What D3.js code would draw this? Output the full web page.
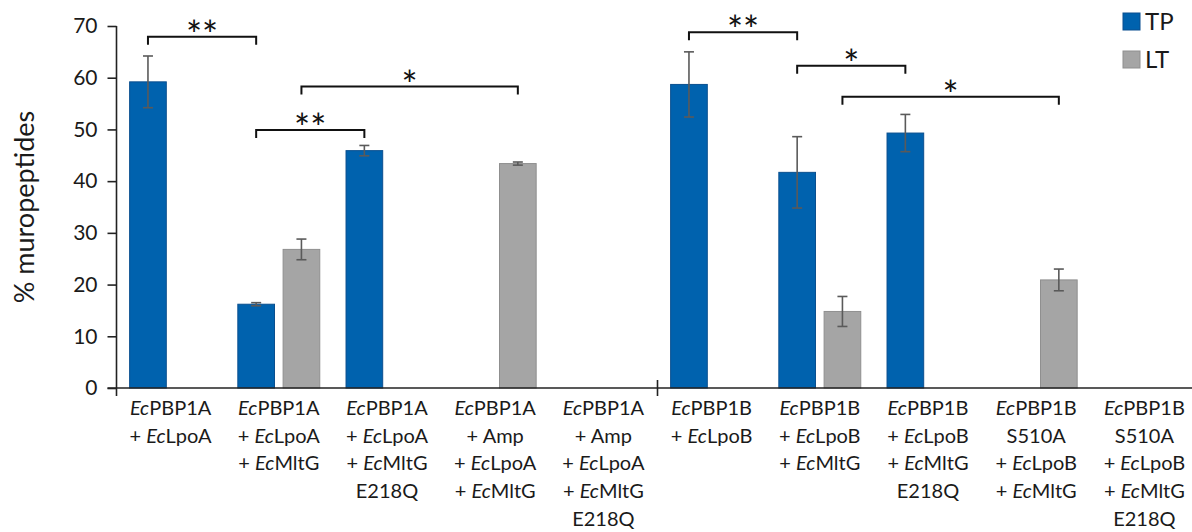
<!DOCTYPE html>
<html>

<head>
  <title>Muropeptides</title>
</head>

<body>

  <svg id="svg" width="1192" height="532"></svg>

  <script src="https://d3js.org/d3.v7.min.js"></script>
  <script>
    // categories: each entry is the lines of the x label
    const categories = [
      ['EcPBP1A', '+ EcLpoA'],
      ['EcPBP1A', '+ EcLpoA', '+ EcMltG'],
      ['EcPBP1A', '+ EcLpoA', '+ EcMltG', 'E218Q'],
      ['EcPBP1A', '+ Amp', '+ EcLpoA', '+ EcMltG'],
      ['EcPBP1A', '+ Amp', '+ EcLpoA', '+ EcMltG', 'E218Q'],
      ['EcPBP1B', '+ EcLpoB'],
      ['EcPBP1B', '+ EcLpoB', '+ EcMltG'],
      ['EcPBP1B', '+ EcLpoB', '+ EcMltG', 'E218Q'],
      ['EcPBP1B', 'S510A', '+ EcLpoB', '+ EcMltG'],
      ['EcPBP1B', 'S510A', '+ EcLpoB', '+ EcMltG', 'E218Q']
    ]
    const series = ['TP', 'LT']
    const tpValues = [59.2, 16.2, 45.9, null, null, 58.7, 41.7, 49.3, null, null]
    const tpErrors = [5.0, 0.3, 1.0, null, null, 6.3, 6.9, 3.6, null, null]
    const ltValues = [null, 26.8, null, 43.4, null, null, 14.8, null, 20.9, null]
    const ltErrors = [null, 2.0, null, 0.3, null, null, 2.9, null, 2.1, null]
    const yTicks = [0, 10, 20, 30, 40, 50, 60, 70]

    // significance brackets: [category, series] -> [category, series], height in %, label
    const brackets = [
      { a: 0, sa: 'TP', b: 1, sb: 'TP', h: 67.9, label: '**' },
      { a: 1, sa: 'TP', b: 2, sb: 'TP', h: 49.9, label: '**' },
      { a: 1, sa: 'LT', b: 3, sb: 'LT', h: 58.3, label: '*' },
      { a: 5, sa: 'TP', b: 6, sb: 'TP', h: 68.8, label: '**' },
      { a: 6, sa: 'TP', b: 7, sb: 'TP', h: 62.3, label: '*' },
      { a: 6, sa: 'LT', b: 8, sb: 'LT', h: 56.3, label: '*' }
    ]

    const colors = { TP: '#0062ae', LT: '#a5a5a5' }
    const strokes = { TP: '#0a4f8f', LT: '#8f8f8f' }
    const font = 'Lato, "Open Sans", sans-serif'

    const svg = d3.select('#svg')

    const idx = d3.range(categories.length)
    const xscale = d3.scaleBand()
      .domain(idx)
      .range([116.5, 1198.5])

    const sub = d3.scaleBand()
      .domain(series)
      .range([0, xscale.bandwidth()])
      .paddingInner(0.19)
      .paddingOuter(0.29)

    const yscale = d3.scaleLinear()
      .domain([0, 70])
      .range([388, 26])

    const rows = []
    idx.forEach(i => {
      if (tpValues[i] != null) rows.push({ i, s: 'TP', v: tpValues[i], e: tpErrors[i] })
      if (ltValues[i] != null) rows.push({ i, s: 'LT', v: ltValues[i], e: ltErrors[i] })
    })

    const cx = (i, s) => xscale(i) + sub(s) + sub.bandwidth() / 2

    // bars
    svg.append('g')
      .selectAll('rect')
      .data(rows)
      .join('rect')
      .attr('x', d => xscale(d.i) + sub(d.s))
      .attr('y', d => yscale(d.v))
      .attr('width', sub.bandwidth())
      .attr('height', d => yscale(0) - yscale(d.v))
      .attr('fill', d => colors[d.s])
      .attr('stroke', d => strokes[d.s])
      .attr('stroke-width', 1)

    // error bars
    const err = svg.append('g')
      .attr('stroke', '#5a5a5a')
      .attr('stroke-width', 1.6)
    rows.forEach(d => {
      const x = cx(d.i, d.s)
      err.append('line')
        .attr('x1', x).attr('x2', x)
        .attr('y1', yscale(d.v + d.e)).attr('y2', yscale(d.v - d.e))
      ;[d.v + d.e, d.v - d.e].forEach(v => {
        err.append('line')
          .attr('x1', x - 5).attr('x2', x + 5)
          .attr('y1', yscale(v)).attr('y2', yscale(v))
      })
    })

    // y axis
    const yAxis = svg.append('g')
      .attr('transform', `translate(${xscale.range()[0]},0)`)
      .call(d3.axisLeft(yscale).tickValues(yTicks).tickSize(9).tickSizeOuter(0).tickPadding(10))
    yAxis.select('.domain').attr('stroke', '#222').attr('stroke-width', 1.6)
      .attr('d', `M0,${yscale(70)}V${yscale(0) + 8}`)
    yAxis.selectAll('.tick line').attr('stroke', '#222').attr('stroke-width', 1.6)
    yAxis.selectAll('.tick text')
      .attr('font-family', font)
      .attr('font-size', 21)
      .attr('fill', '#1a1a1a')

    // x axis
    const xa = svg.append('g').attr('stroke', '#222').attr('stroke-width', 1.6)
    xa.append('line')
      .attr('x1', xscale.range()[0] - 9).attr('x2', 1192)
      .attr('y1', yscale(0)).attr('y2', yscale(0))
    xa.append('line')
      .attr('x1', xscale(5)).attr('x2', xscale(5))
      .attr('y1', yscale(0) - 8).attr('y2', yscale(0) + 8)

    // x labels
    const labels = svg.append('g')
      .attr('font-family', font)
      .attr('font-size', 20)
      .attr('fill', '#1a1a1a')
      .attr('text-anchor', 'middle')
    categories.forEach((lines, i) => {
      lines.forEach((line, j) => {
        const t = labels.append('text')
          .attr('x', xscale(i) + xscale.bandwidth() / 2)
          .attr('y', 415 + j * 27.7)
        line.split(/(Ec)/).filter(p => p !== '').forEach(p => {
          t.append('tspan')
            .attr('font-style', p === 'Ec' ? 'italic' : 'normal')
            .text(p)
        })
      })
    })

    // y title
    svg.append('text')
      .attr('transform', `translate(34,${(yscale(0) + yscale(70)) / 2}) rotate(-90)`)
      .attr('text-anchor', 'middle')
      .attr('font-family', font)
      .attr('font-size', 27)
      .attr('fill', '#1a1a1a')
      .text('% muropeptides')

    // brackets
    const br = svg.append('g')
    brackets.forEach(b => {
      const x1 = cx(b.a, b.sa)
      const x2 = cx(b.b, b.sb)
      const y = yscale(b.h)
      br.append('path')
        .attr('d', `M${x1},${y + 8}V${y}H${x2}V${y + 8}`)
        .attr('fill', 'none')
        .attr('stroke', '#111')
        .attr('stroke-width', 2)
      br.append('text')
        .attr('x', (x1 + x2) / 2)
        .attr('y', y + 12)
        .attr('text-anchor', 'middle')
        .attr('font-family', font)
        .attr('font-size', 38)
        .attr('letter-spacing', 0)
        .attr('fill', '#111')
        .text(b.label)
    })

    // legend
    const legend = svg.append('g')
      .attr('transform', 'translate(1123,13)')
    series.forEach((s, k) => {
      const g = legend.append('g').attr('transform', `translate(0,${k * 38})`)
      g.append('rect')
        .attr('width', 17).attr('height', 17)
        .attr('fill', colors[s])
        .attr('stroke', strokes[s])
      g.append('text')
        .attr('x', 22).attr('y', 17)
        .attr('font-family', font)
        .attr('font-size', 24)
        .attr('fill', '#1a1a1a')
        .text(s)
    })
  </script>
</body>

<style>
  body,
  html {
    margin: 0;
    padding: 0;
  }

  #svg {
    display: block;
    background: #fff;
  }
</style>

</html>
